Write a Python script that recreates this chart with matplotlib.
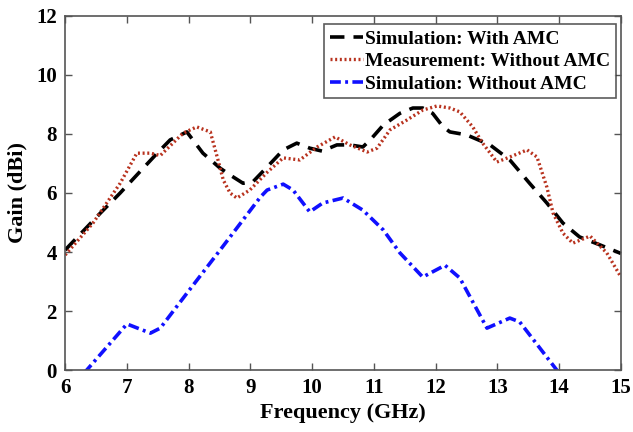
import matplotlib

matplotlib.use("Agg")

import matplotlib.pyplot as plt

# Simulation: With AMC
f_sim_amc = [6.0, 6.57, 6.89, 7.16, 7.49, 7.7, 7.97, 8.23, 8.51, 8.67, 8.88, 9.04,
             9.27, 9.53, 9.75, 9.96, 10.16, 10.4, 10.61, 10.82, 10.94, 11.15, 11.42,
             11.63, 11.79, 11.95, 12.12, 12.23, 12.5, 12.88, 13.2, 13.52, 13.8, 14.06,
             14.33, 14.66, 15.0]
g_sim_amc = [4.07, 5.32, 6.0, 6.61, 7.35, 7.8, 8.07, 7.35, 6.84, 6.61, 6.33, 6.38,
             6.88, 7.46, 7.69, 7.52, 7.42, 7.63, 7.63, 7.56, 7.8, 8.3, 8.7,
             8.88, 8.88, 8.7, 8.24, 8.07, 7.97, 7.63, 7.12, 6.33, 5.66, 4.98,
             4.51, 4.24, 3.95]

# Measurement: Without AMC
f_meas = [6.0, 6.45, 6.89, 7.16, 7.38, 7.54, 7.91, 8.13, 8.35, 8.46, 8.56, 8.67,
          8.78, 8.99, 9.27, 9.53, 9.8, 10.08, 10.37, 10.61, 10.89, 11.05, 11.26,
          11.53, 11.79, 12.02, 12.23, 12.39, 12.6, 12.76, 12.99, 13.2, 13.48, 13.64,
          13.8, 13.9, 14.06, 14.22, 14.5, 14.77, 15.0]
g_meas = [3.9, 4.98, 6.33, 7.35, 7.35, 7.27, 8.03, 8.24, 8.07, 7.23, 6.44, 6.0,
          5.83, 6.1, 6.7, 7.19, 7.12, 7.56, 7.9, 7.63, 7.39, 7.52, 8.14,
          8.47, 8.81, 8.95, 8.88, 8.75, 8.24, 7.69, 7.05, 7.22, 7.46, 7.22,
          6.2, 5.32, 4.64, 4.3, 4.54, 3.97, 3.15]

# Simulation: Without AMC
f_sim_no = [6.3, 6.35, 7.0, 7.38, 7.54, 7.97, 8.51, 9.16, 9.27, 9.53, 9.69, 9.96,
            10.17, 10.5, 10.82, 11.15, 11.42, 11.79, 12.15, 12.39, 12.83, 13.2,
            13.36, 13.96, 14.0]
g_sim_no = [-0.1, 0.0, 1.56, 1.25, 1.42, 2.6, 4.07, 5.86, 6.1, 6.3, 6.1, 5.36,
            5.66, 5.83, 5.42, 4.75, 3.97, 3.15, 3.55, 3.12, 1.42, 1.76,
            1.63, 0.0, -0.1]

x_ticks = [6, 7, 8, 9, 10, 11, 12, 13, 14, 15]
y_ticks = [0, 2, 4, 6, 8, 10, 12]

plt.rcParams["font.family"] = ["Liberation Serif", "DejaVu Serif"]
plt.rcParams["font.weight"] = "bold"

fig = plt.figure(figsize=(6.33, 4.32), dpi=100)
ax = fig.add_axes([0.103, 0.1435, 0.878, 0.8195])

ax.plot(f_sim_amc, g_sim_amc, color="black", linestyle=(0, (4, 2.5)), linewidth=2.6,
        label="Simulation: With AMC")
ax.plot(f_meas, g_meas, color="#b8321e", linestyle=(0, (0.6, 0.8)), linewidth=2.4,
        label="Measurement: Without AMC")
ax.plot(f_sim_no, g_sim_no, color="#1010ff", linestyle=(0, (3, 1.2, 0.8, 1.2)),
        linewidth=2.6, label="Simulation: Without AMC")

ax.set_xlim(6, 15)
ax.set_ylim(0, 12)
ax.set_xticks(x_ticks)
ax.set_yticks(y_ticks)
ax.tick_params(direction="in", top=True, right=True, length=5, width=1,
               labelsize=15, color="#555555", pad=6)
for spine in ax.spines.values():
    spine.set_color("#555555")
    spine.set_linewidth(1.2)

ax.set_xlabel("Frequency (GHz)", fontsize=16, fontweight="bold", labelpad=3)
ax.set_ylabel("Gain (dBi)", fontsize=16, fontweight="bold", labelpad=6)

leg = ax.legend(loc="upper right", fontsize=14, handlelength=1.7, handletextpad=0.1,
                borderpad=0.3, labelspacing=0.25, fancybox=False,
                bbox_to_anchor=(0.991, 0.977), borderaxespad=0)
leg.get_frame().set_edgecolor("#333333")
leg.get_frame().set_linewidth(1.2)
for t in leg.get_texts():
    t.set_fontweight("bold")

fig.savefig("out.png", dpi=100)
